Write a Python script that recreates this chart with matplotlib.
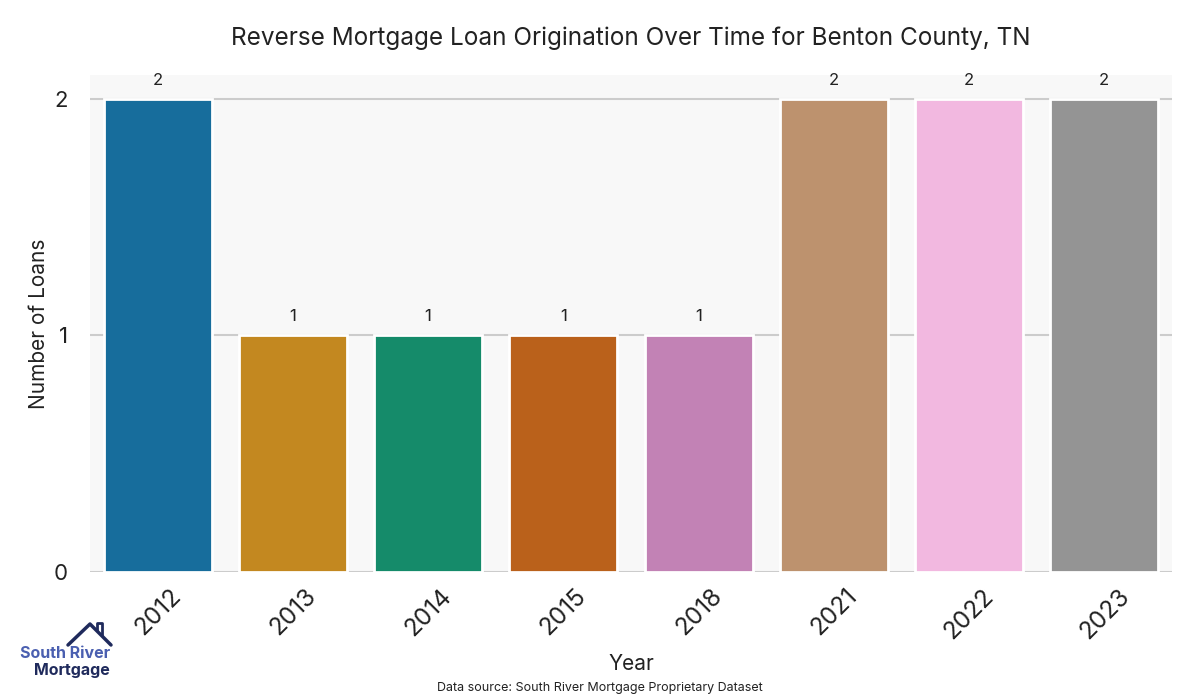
import matplotlib
matplotlib.use("Agg")
import matplotlib.pyplot as plt
import seaborn as sns
import pandas as pd

years = ["2012", "2013", "2014", "2015", "2018", "2021", "2022", "2023"]
loans = [2, 1, 1, 1, 1, 2, 2, 2]

sns.set_style("whitegrid")
plt.rcParams['font.family'] = ['Inter', 'DejaVu Sans']

fig = plt.figure(figsize=(12, 7), dpi=100)
ax = fig.add_axes([90/1200, 1-572/700, 1082/1200, 497/700])
ax.set_facecolor("#f8f8f8")

df = pd.DataFrame({"Year": years, "Loans": loans})
pal = sns.color_palette("colorblind", len(years))
sns.barplot(data=df, x="Year", y="Loans", hue="Year", palette=pal, legend=False,
            ax=ax, edgecolor="white", linewidth=2, saturation=0.75, width=0.8)

for c in ax.containers:
    ax.bar_label(c, labels=[f"{int(v)}" for v in c.datavalues], padding=8,
                 fontsize=12, color="#222222")

ax.set_ylim(0, 2.1)
ax.set_xlim(-0.5, len(years) - 0.5)
ax.set_yticks([0, 1, 2])
ax.yaxis.grid(True, color="#cccccc", linewidth=1.5)
ax.xaxis.grid(False)
ax.set_axisbelow(True)
for s in ax.spines.values():
    s.set_visible(False)
ax.tick_params(axis="y", labelsize=16, colors="#222222", pad=16, length=0)
ax.tick_params(axis="x", labelsize=17.5, colors="#222222", length=0, pad=9)
plt.setp(ax.get_xticklabels(), rotation=45)
ax.set_xlabel("Year", fontsize=15, color="#222222", labelpad=8)
ax.set_ylabel("Number of Loans", fontsize=15, color="#222222", labelpad=3)

fig.text(631/1200, 1-38/700, "Reverse Mortgage Loan Origination Over Time for Benton County, TN",
         ha="center", va="center", fontsize=17.5, color="#222222")
fig.text(0.5, 1-688/700, "Data source: South River Mortgage Proprietary Dataset",
         ha="center", va="center", fontsize=9, color="#222222")

# logo
fig.text(110/1200, 1-653/700, "South River", ha="right", va="center", fontsize=11.5,
         color="#4a5fb0", fontweight="bold")
fig.text(110/1200, 1-670/700, "Mortgage", ha="right", va="center", fontsize=11.5,
         color="#1f2a5c", fontweight="bold")
hx = [68, 90, 111]
hy = [645, 624, 645]
fig.add_artist(plt.Line2D([x/1200 for x in hx], [1-y/700 for y in hy],
                          color="#1f2a5c", linewidth=2.5, transform=fig.transFigure))
fig.add_artist(plt.Line2D([97/1200, 97/1200, 102/1200, 102/1200],
                          [1-630/700, 1-623/700, 1-623/700, 1-635/700],
                          color="#1f2a5c", linewidth=2, transform=fig.transFigure))

fig.savefig("out.png", dpi=100)
